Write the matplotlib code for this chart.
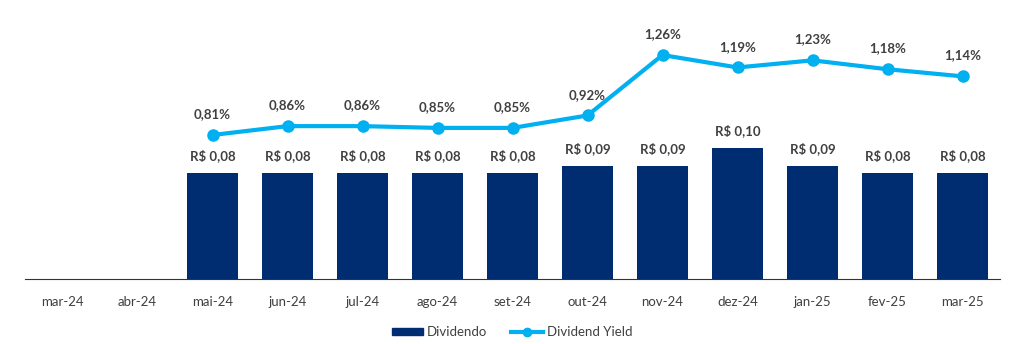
import numpy as np
import matplotlib
matplotlib.use("Agg")
import matplotlib.pyplot as plt
from matplotlib.lines import Line2D
from matplotlib.patches import Patch

plt.rcParams['font.family'] = ['Lato', 'DejaVu Sans']

meses = ["mar-24", "abr-24", "mai-24", "jun-24", "jul-24", "ago-24", "set-24",
         "out-24", "nov-24", "dez-24", "jan-25", "fev-25", "mar-25"]
dividendo = [np.nan, np.nan, 0.080, 0.080, 0.080, 0.080, 0.080,
             0.085, 0.085, 0.099, 0.085, 0.080, 0.080]
div_label = [None, None, "0,08", "0,08", "0,08", "0,08", "0,08",
             "0,09", "0,09", "0,10", "0,09", "0,08", "0,08"]
dy = [np.nan, np.nan, 0.81, 0.86, 0.86, 0.85, 0.85,
      0.92, 1.26, 1.19, 1.23, 1.18, 1.14]

cor_barra = "#002D72"
cor_linha = "#00B0F0"
cor_texto = "#404040"

fig = plt.figure(figsize=(10.24, 3.44), dpi=100)
ax = fig.add_axes([25/1024, 65/344, 975/1024, 259/344])
ax2 = ax.twinx()

x = np.arange(len(meses))
ax.bar(x, dividendo, width=0.67, color=cor_barra, zorder=2)
ax2.plot(x, dy, color=cor_linha, lw=3, marker="o", ms=8, zorder=3)

ax.set_xlim(-0.5, len(meses) - 0.5)
ax.set_ylim(0, 0.1955)
ax2.set_ylim(0, 1.457)

for i in range(len(meses)):
    if div_label[i] is not None:
        ax.annotate("R$ " + div_label[i], (x[i], dividendo[i]), xytext=(0, 12.5),
                    textcoords="offset points", ha="center", va="center",
                    fontsize=9.5, fontweight="bold", color=cor_texto)
    if not np.isnan(dy[i]):
        ax2.annotate(("%.2f%%" % dy[i]).replace(".", ","), (x[i], dy[i]),
                     xytext=(0, 15), textcoords="offset points", ha="center",
                     va="center", fontsize=9.5, fontweight="bold", color=cor_texto)

for a in (ax, ax2):
    for s in ("top", "right", "left"):
        a.spines[s].set_visible(False)
    a.set_yticks([])
ax.spines["bottom"].set_color("#333333")
ax2.spines["bottom"].set_visible(False)
ax.set_xticks(x)
ax.set_xticklabels(meses, fontsize=9.5, color=cor_texto)
ax.tick_params(axis="x", length=0, pad=12)

handles = [Patch(color=cor_barra, label="Dividendo"),
           Line2D([], [], color=cor_linha, lw=3, marker="o", ms=6, label="Dividend Yield")]
fig.legend(handles=handles, loc="center", bbox_to_anchor=(0.5, 12/344), ncol=2,
           frameon=False, fontsize=9.5, labelcolor=cor_texto, handlelength=2.4,
           handleheight=0.5, handletextpad=0.3, columnspacing=1.8)

fig.savefig("out.png", dpi=100)
